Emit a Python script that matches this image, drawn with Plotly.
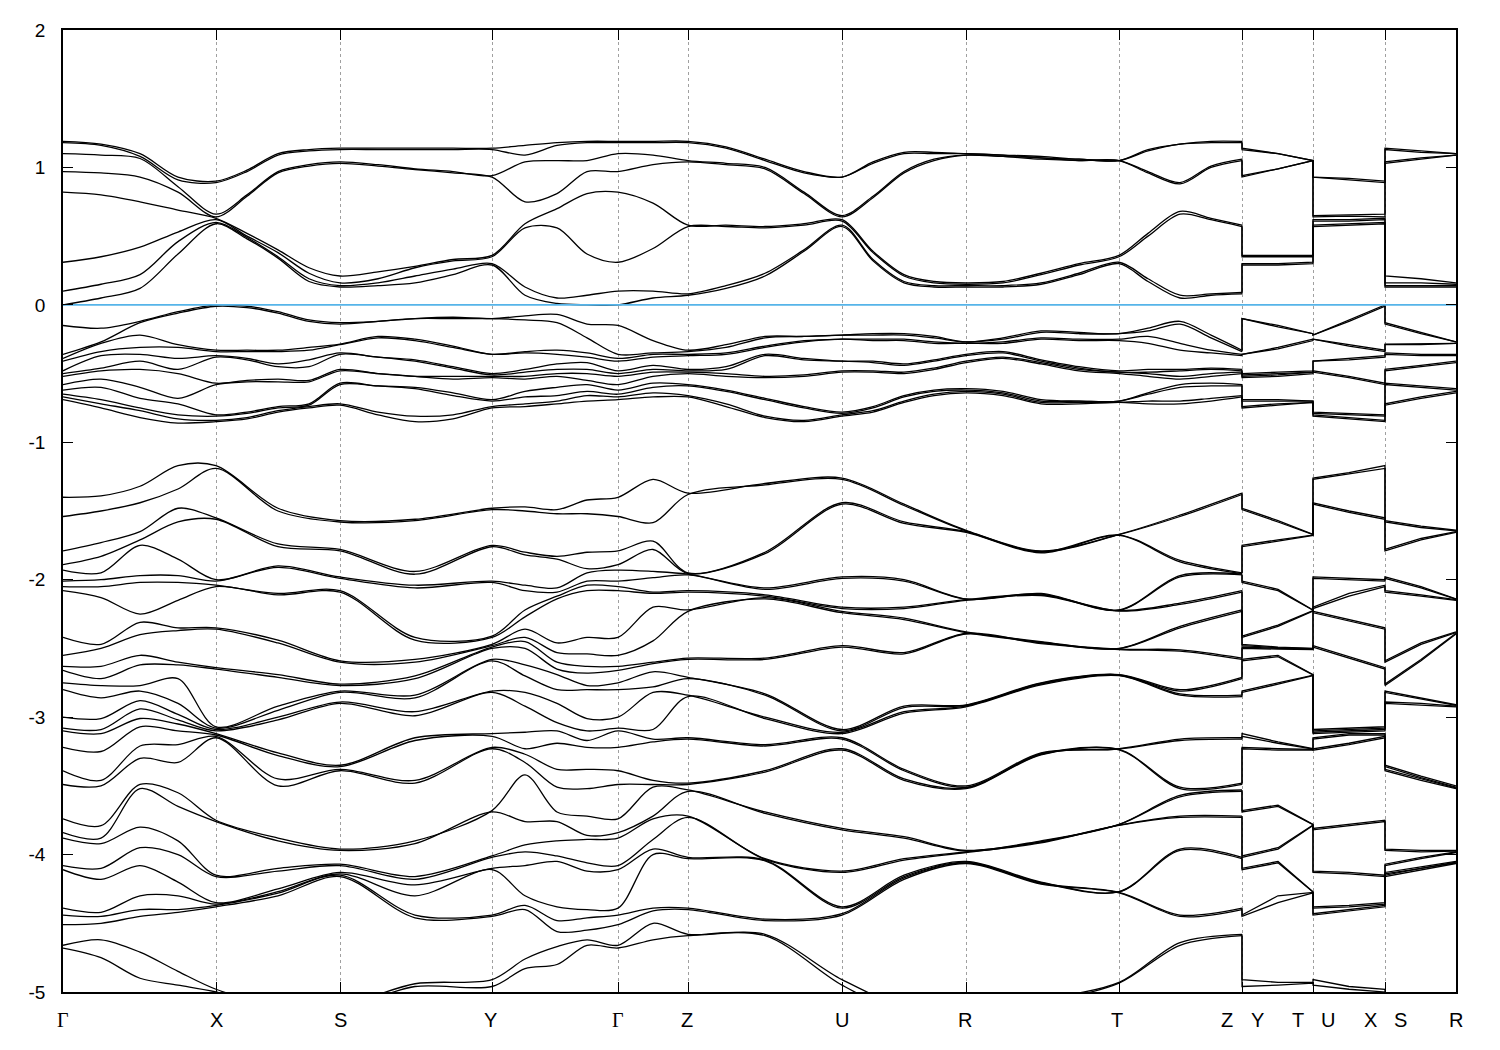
import plotly.graph_objects as go

# ---------------- k-path (distance along the path) ----------------
K_MAIN = [0.00, 0.38, 0.77, 1.15, 1.53, 1.84, 2.15, 2.46, 2.77, 3.15, 3.52, 3.90, 4.29,
          4.62, 4.94, 5.24, 5.55, 5.90, 6.25, 6.63, 7.02, 7.41, 7.79, 8.10, 8.41, 8.71,
          9.03, 9.40, 9.78, 10.16, 10.56, 10.85, 11.17, 11.48, 11.79]
K_DEEP = [0.00, 0.38, 0.77, 1.15, 1.53, 2.15, 2.77, 3.52, 4.29, 4.62, 4.94, 5.24, 5.55,
          5.90, 6.25, 7.02, 7.79, 8.41, 9.03, 9.78, 10.56, 11.17, 11.79]
K_YT = [11.79, 12.15, 12.50]
K_UX = [12.50, 12.86, 13.22]
K_SR = [13.22, 13.58, 13.93]

TICK_POS = [0.00, 1.53, 2.77, 4.29, 5.55, 6.25, 7.79, 9.03, 10.56, 11.79, 12.50, 13.22, 13.93]
TICK_LABELS = ["Γ", "X", "S", "Y", "Γ", "Z", "U", "R", "T", "Z", "Y", "T", "U", "X", "S", "R"]
LABEL_POS = [0.00, 1.53, 2.77, 4.27, 5.55, 6.24, 7.79, 9.02, 10.54, 11.64, 11.94, 12.35, 12.65,
             13.07, 13.37, 13.93]
Y_TICKS = [-5, -4, -3, -2, -1, 0, 1, 2]
E_FERMI = 0.0

# ---------------- conduction bands (energy columns along K_MAIN) ----------------
COND_MAIN = [
    [1.19, 1.18, 1.10, 0.97, 0.82, 0.31, 0.10, 0.00],
    [1.17, 1.16, 1.09, 0.96, 0.80, 0.35, 0.15, 0.05],
    [1.10, 1.08, 1.065, 0.93, 0.75, 0.42, 0.22, 0.12],
    [0.93, 0.91, 0.86, 0.82, 0.69, 0.53, 0.46, 0.37],
    [0.90, 0.89, 0.66, 0.64, 0.63, 0.62, 0.60, 0.59],
    [0.98, 0.97, 0.80, 0.79, 0.52, 0.50, 0.49, 0.48],
    [1.10, 1.09, 0.97, 0.96, 0.40, 0.38, 0.35, 0.34],
    [1.13, 1.12, 1.02, 1.01, 0.27, 0.23, 0.19, 0.17],
    [1.14, 1.13, 1.04, 1.03, 0.21, 0.16, 0.14, 0.13],
    [1.14, 1.13, 1.02, 1.01, 0.24, 0.19, 0.16, 0.14],
    [1.14, 1.13, 0.99, 0.985, 0.28, 0.27, 0.21, 0.16],
    [1.14, 1.13, 0.97, 0.96, 0.33, 0.32, 0.26, 0.22],
    [1.14, 1.13, 0.94, 0.93, 0.36, 0.35, 0.30, 0.29],
    [1.16, 1.09, 1.04, 0.75, 0.59, 0.56, 0.13, 0.07],
    [1.18, 1.16, 1.05, 0.81, 0.70, 0.56, 0.05, 0.01],
    [1.19, 1.18, 1.05, 0.97, 0.81, 0.37, 0.07, 0.00],
    [1.19, 1.18, 1.10, 0.97, 0.82, 0.31, 0.10, 0.00],
    [1.19, 1.18, 1.09, 1.02, 0.74, 0.41, 0.10, 0.05],
    [1.19, 1.18, 1.05, 1.04, 0.58, 0.57, 0.08, 0.07],
    [1.15, 1.14, 1.03, 1.02, 0.58, 0.57, 0.14, 0.12],
    [1.06, 1.05, 1.00, 0.99, 0.57, 0.56, 0.23, 0.21],
    [0.97, 0.96, 0.82, 0.81, 0.59, 0.58, 0.40, 0.39],
    [0.93, 0.93, 0.65, 0.64, 0.62, 0.61, 0.58, 0.57],
    [1.04, 1.03, 0.79, 0.78, 0.39, 0.38, 0.33, 0.32],
    [1.11, 1.10, 0.97, 0.96, 0.22, 0.21, 0.17, 0.16],
    [1.11, 1.10, 1.06, 1.05, 0.17, 0.16, 0.14, 0.13],
    [1.10, 1.10, 1.09, 1.09, 0.16, 0.15, 0.14, 0.13],
    [1.09, 1.09, 1.08, 1.08, 0.17, 0.16, 0.14, 0.13],
    [1.08, 1.07, 1.07, 1.06, 0.23, 0.22, 0.16, 0.15],
    [1.06, 1.06, 1.05, 1.05, 0.30, 0.29, 0.23, 0.22],
    [1.05, 1.05, 1.05, 1.05, 0.36, 0.35, 0.31, 0.30],
    [1.13, 1.12, 0.97, 0.96, 0.52, 0.50, 0.19, 0.17],
    [1.17, 1.17, 0.89, 0.88, 0.68, 0.66, 0.07, 0.05],
    [1.19, 1.18, 1.01, 1.00, 0.63, 0.62, 0.08, 0.07],
    [1.19, 1.18, 1.06, 1.05, 0.58, 0.57, 0.09, 0.08],
]
COND_YT = [
    [1.14, 1.13, 0.94, 0.93, 0.36, 0.35, 0.30, 0.29],
    [1.10, 1.10, 0.99, 0.99, 0.36, 0.35, 0.30, 0.29],
    [1.05, 1.05, 1.05, 1.05, 0.36, 0.35, 0.31, 0.30],
]
COND_UX = [
    [0.93, 0.93, 0.65, 0.64, 0.62, 0.61, 0.58, 0.57],
    [0.92, 0.91, 0.655, 0.645, 0.62, 0.61, 0.59, 0.58],
    [0.90, 0.89, 0.66, 0.64, 0.63, 0.62, 0.60, 0.59],
]
COND_SR = [
    [1.14, 1.13, 1.04, 1.03, 0.21, 0.16, 0.14, 0.13],
    [1.12, 1.11, 1.07, 1.06, 0.19, 0.16, 0.14, 0.13],
    [1.10, 1.10, 1.09, 1.09, 0.16, 0.15, 0.14, 0.13],
]

# ---------------- upper valence bands (columns along K_MAIN) ----------------
VAL_MAIN = [
    [-0.15, -0.36, -0.39, -0.41, -0.48, -0.50, -0.52, -0.58, -0.62, -0.65, -0.67, -0.69],
    [-0.17, -0.27, -0.28, -0.34, -0.37, -0.46, -0.48, -0.54, -0.60, -0.69, -0.72, -0.75],
    [-0.12, -0.13, -0.22, -0.31, -0.36, -0.41, -0.47, -0.60, -0.68, -0.75, -0.77, -0.82],
    [-0.05, -0.06, -0.29, -0.31, -0.39, -0.47, -0.50, -0.68, -0.72, -0.80, -0.83, -0.86],
    [0.00, -0.01, -0.33, -0.34, -0.37, -0.38, -0.57, -0.58, -0.80, -0.81, -0.84, -0.85],
    [-0.01, -0.02, -0.33, -0.34, -0.39, -0.40, -0.55, -0.56, -0.78, -0.79, -0.82, -0.83],
    [-0.05, -0.06, -0.33, -0.34, -0.43, -0.45, -0.54, -0.56, -0.74, -0.75, -0.77, -0.78],
    [-0.11, -0.12, -0.31, -0.33, -0.40, -0.45, -0.55, -0.56, -0.72, -0.73, -0.74, -0.75],
    [-0.13, -0.14, -0.285, -0.29, -0.35, -0.36, -0.47, -0.48, -0.57, -0.58, -0.72, -0.73],
    [-0.12, -0.12, -0.23, -0.24, -0.38, -0.38, -0.50, -0.50, -0.59, -0.59, -0.78, -0.80],
    [-0.10, -0.10, -0.25, -0.26, -0.40, -0.41, -0.52, -0.52, -0.60, -0.61, -0.81, -0.85],
    [-0.09, -0.10, -0.30, -0.31, -0.45, -0.46, -0.52, -0.54, -0.64, -0.66, -0.80, -0.83],
    [-0.10, -0.10, -0.36, -0.36, -0.50, -0.51, -0.52, -0.53, -0.69, -0.70, -0.74, -0.75],
    [-0.08, -0.11, -0.34, -0.35, -0.47, -0.49, -0.52, -0.54, -0.63, -0.67, -0.72, -0.74],
    [-0.07, -0.13, -0.33, -0.36, -0.43, -0.47, -0.50, -0.52, -0.60, -0.66, -0.70, -0.72],
    [-0.14, -0.24, -0.35, -0.38, -0.42, -0.47, -0.50, -0.55, -0.58, -0.63, -0.66, -0.70],
    [-0.15, -0.36, -0.39, -0.41, -0.48, -0.50, -0.52, -0.58, -0.62, -0.65, -0.67, -0.69],
    [-0.26, -0.35, -0.36, -0.38, -0.44, -0.47, -0.49, -0.52, -0.57, -0.60, -0.64, -0.67],
    [-0.33, -0.34, -0.36, -0.37, -0.47, -0.48, -0.49, -0.50, -0.58, -0.59, -0.66, -0.67],
    [-0.29, -0.31, -0.35, -0.36, -0.45, -0.47, -0.50, -0.52, -0.62, -0.63, -0.72, -0.74],
    [-0.23, -0.24, -0.30, -0.31, -0.36, -0.37, -0.52, -0.53, -0.68, -0.69, -0.81, -0.82],
    [-0.23, -0.23, -0.26, -0.27, -0.39, -0.40, -0.51, -0.52, -0.74, -0.75, -0.84, -0.85],
    [-0.22, -0.22, -0.25, -0.25, -0.41, -0.41, -0.48, -0.49, -0.78, -0.79, -0.80, -0.81],
    [-0.21, -0.22, -0.25, -0.26, -0.41, -0.42, -0.48, -0.49, -0.74, -0.75, -0.77, -0.78],
    [-0.21, -0.22, -0.25, -0.26, -0.43, -0.44, -0.49, -0.50, -0.66, -0.67, -0.70, -0.71],
    [-0.23, -0.24, -0.27, -0.28, -0.40, -0.41, -0.46, -0.47, -0.62, -0.63, -0.65, -0.66],
    [-0.27, -0.27, -0.28, -0.28, -0.36, -0.37, -0.41, -0.42, -0.61, -0.62, -0.63, -0.64],
    [-0.24, -0.25, -0.27, -0.28, -0.34, -0.35, -0.38, -0.39, -0.63, -0.64, -0.65, -0.66],
    [-0.19, -0.20, -0.24, -0.25, -0.40, -0.41, -0.42, -0.43, -0.69, -0.70, -0.71, -0.72],
    [-0.20, -0.21, -0.25, -0.26, -0.45, -0.46, -0.47, -0.48, -0.70, -0.70, -0.71, -0.72],
    [-0.21, -0.21, -0.25, -0.26, -0.48, -0.49, -0.49, -0.50, -0.70, -0.70, -0.71, -0.71],
    [-0.17, -0.19, -0.23, -0.28, -0.47, -0.49, -0.50, -0.52, -0.64, -0.65, -0.70, -0.72],
    [-0.12, -0.14, -0.28, -0.33, -0.47, -0.48, -0.52, -0.54, -0.58, -0.60, -0.70, -0.72],
    [-0.22, -0.24, -0.33, -0.35, -0.46, -0.47, -0.50, -0.52, -0.57, -0.59, -0.68, -0.70],
    [-0.33, -0.34, -0.36, -0.37, -0.47, -0.48, -0.49, -0.50, -0.58, -0.59, -0.66, -0.67],
]
VAL_YT = [
    [-0.10, -0.10, -0.36, -0.36, -0.50, -0.51, -0.52, -0.53, -0.69, -0.70, -0.74, -0.75],
    [-0.15, -0.16, -0.31, -0.32, -0.49, -0.50, -0.51, -0.52, -0.69, -0.70, -0.72, -0.73],
    [-0.21, -0.21, -0.25, -0.26, -0.48, -0.49, -0.49, -0.50, -0.70, -0.70, -0.71, -0.71],
]
VAL_UX = [
    [-0.22, -0.22, -0.25, -0.25, -0.41, -0.41, -0.48, -0.49, -0.78, -0.79, -0.80, -0.81],
    [-0.11, -0.12, -0.29, -0.30, -0.39, -0.40, -0.52, -0.53, -0.79, -0.80, -0.82, -0.83],
    [0.00, -0.01, -0.33, -0.34, -0.37, -0.38, -0.57, -0.58, -0.80, -0.81, -0.84, -0.85],
]
VAL_SR = [
    [-0.13, -0.14, -0.285, -0.29, -0.35, -0.36, -0.47, -0.48, -0.57, -0.58, -0.72, -0.73],
    [-0.20, -0.21, -0.28, -0.29, -0.36, -0.37, -0.44, -0.45, -0.59, -0.60, -0.67, -0.68],
    [-0.27, -0.27, -0.28, -0.28, -0.36, -0.37, -0.41, -0.42, -0.61, -0.62, -0.63, -0.64],
]

# ---------------- deep valence bands (columns along K_DEEP) ----------------
DEEP_GAMMA = [-1.40, -1.54, -1.79, -1.89, -1.93, -2.01, -2.05, -2.08, -2.42, -2.55, -2.63, -2.66,
              -2.75, -2.80, -3.00, -3.08, -3.10, -3.22, -3.39, -3.49, -3.74, -3.84, -3.88, -4.08,
              -4.11, -4.39, -4.44, -4.51, -4.66, -4.68]
DEEP_X = [-1.17, -1.19, -1.55, -1.56, -2.00, -2.01, -2.04, -2.05, -2.35, -2.36, -2.64, -2.65,
          -3.07, -3.08, -3.09, -3.10, -3.12, -3.13, -3.14, -3.15, -3.75, -3.76, -4.15, -4.16,
          -4.35, -4.36, -4.37, -4.38, -4.98, -5.00]
DEEP_S = [-1.57, -1.58, -1.78, -1.79, -1.98, -1.99, -2.08, -2.09, -2.59, -2.60, -2.76, -2.77,
          -2.81, -2.82, -2.89, -2.90, -3.35, -3.36, -3.38, -3.39, -3.96, -3.97, -4.07, -4.08,
          -4.13, -4.14, -4.15, -4.16, -5.10, -5.12]
DEEP_Y = [-1.48, -1.49, -1.75, -1.76, -2.01, -2.02, -2.41, -2.42, -2.47, -2.48, -2.49, -2.50,
          -2.58, -2.59, -2.81, -2.82, -3.12, -3.14, -3.22, -3.23, -3.68, -3.69, -4.01, -4.02,
          -4.10, -4.11, -4.44, -4.45, -4.91, -4.96]
DEEP_Z = [-1.37, -1.38, -1.95, -1.955, -1.96, -1.965, -2.08, -2.09, -2.22, -2.23, -2.57, -2.58,
          -2.71, -2.72, -2.84, -2.85, -3.15, -3.16, -3.48, -3.49, -3.53, -3.54, -3.72, -3.73,
          -4.02, -4.03, -4.39, -4.40, -4.58, -4.59]
DEEP_U = [-1.26, -1.27, -1.44, -1.45, -1.98, -1.99, -2.20, -2.21, -2.23, -2.24, -2.48, -2.49,
          -3.09, -3.10, -3.11, -3.12, -3.15, -3.16, -3.23, -3.24, -3.81, -3.82, -4.12, -4.13,
          -4.38, -4.39, -4.43, -4.44, -4.91, -4.95]
DEEP_R = [-1.64, -1.645, -1.65, -1.655, -2.14, -2.142, -2.145, -2.15, -2.38, -2.385, -2.39, -2.395,
          -2.91, -2.915, -2.92, -2.925, -3.50, -3.51, -3.515, -3.52, -3.97, -3.975, -3.98, -3.985,
          -4.05, -4.055, -4.06, -4.065, -5.10, -5.15]
DEEP_T = [-1.67, -1.672, -1.675, -1.678, -2.22, -2.222, -2.225, -2.228, -2.50, -2.502, -2.505, -2.508,
          -2.69, -2.692, -2.695, -2.698, -3.23, -3.232, -3.235, -3.238, -3.78, -3.782, -3.785, -3.788,
          -4.27, -4.272, -4.275, -4.278, -4.93, -4.935]

DEEP_MAIN = [
    DEEP_GAMMA,
    [-1.39, -1.50, -1.73, -1.83, -1.95, -2.00, -2.05, -2.13, -2.47, -2.50, -2.63, -2.72, -2.77, -2.86, -3.01,
     -3.09, -3.12, -3.25, -3.46, -3.50, -3.79, -3.88, -3.92, -4.10, -4.18, -4.42, -4.45, -4.50, -4.62, -4.75],
    [-1.32, -1.44, -1.65, -1.71, -1.75, -1.97, -2.02, -2.25, -2.31, -2.40, -2.55, -2.62, -2.77, -2.81, -2.88,
     -2.94, -3.01, -3.07, -3.21, -3.30, -3.49, -3.52, -3.80, -3.95, -4.08, -4.30, -4.40, -4.45, -4.71, -4.90],
    [-1.17, -1.34, -1.48, -1.58, -1.85, -1.97, -2.02, -2.15, -2.35, -2.37, -2.60, -2.62, -2.72, -2.90, -2.98,
     -3.02, -3.05, -3.10, -3.20, -3.33, -3.55, -3.65, -3.90, -4.00, -4.20, -4.30, -4.40, -4.42, -4.85, -4.95],
    DEEP_X,
    [-1.48, -1.50, -1.74, -1.76, -1.90, -1.91, -2.10, -2.11, -2.44, -2.46, -2.69, -2.71, -2.92, -2.95, -3.00,
     -3.02, -3.26, -3.28, -3.45, -3.50, -3.88, -3.90, -4.10, -4.12, -4.25, -4.27, -4.28, -4.30, -5.10, -5.12],
    DEEP_S,
    [-1.56, -1.57, -1.94, -1.96, -2.04, -2.06, -2.42, -2.44, -2.58, -2.60, -2.70, -2.72, -2.84, -2.86, -2.96,
     -2.99, -3.15, -3.17, -3.46, -3.48, -3.90, -3.92, -4.16, -4.18, -4.22, -4.30, -4.44, -4.46, -4.94, -4.96],
    DEEP_Y,
    [-1.47, -1.50, -1.80, -1.82, -2.04, -2.08, -2.22, -2.27, -2.36, -2.42, -2.45, -2.50, -2.62, -2.70, -2.82,
     -2.92, -3.11, -3.23, -3.27, -3.33, -3.42, -3.76, -3.93, -3.98, -4.08, -4.30, -4.37, -4.40, -4.76, -4.83],
    [-1.49, -1.52, -1.83, -1.85, -2.06, -2.09, -2.12, -2.14, -2.46, -2.53, -2.60, -2.65, -2.69, -2.80, -2.90,
     -3.04, -3.10, -3.19, -3.38, -3.51, -3.69, -3.76, -3.90, -4.01, -4.05, -4.38, -4.48, -4.56, -4.67, -4.80],
    [-1.42, -1.52, -1.80, -1.92, -1.95, -2.01, -2.04, -2.08, -2.42, -2.54, -2.63, -2.68, -2.77, -2.80, -3.01,
     -3.10, -3.17, -3.22, -3.38, -3.52, -3.72, -3.86, -3.89, -4.06, -4.12, -4.40, -4.46, -4.55, -4.62, -4.66],
    DEEP_GAMMA,
    [-1.27, -1.585, -1.72, -1.78, -1.94, -1.985, -2.09, -2.10, -2.20, -2.445, -2.60, -2.61, -2.67, -2.78, -2.82,
     -3.09, -3.16, -3.18, -3.46, -3.49, -3.51, -3.72, -3.74, -3.89, -3.96, -4.00, -4.39, -4.41, -4.50, -4.62],
    DEEP_Z,
    [-1.30, -1.31, -1.80, -1.81, -2.06, -2.07, -2.11, -2.12, -2.13, -2.14, -2.57, -2.58, -2.83, -2.84, -3.00,
     -3.01, -3.20, -3.21, -3.39, -3.40, -3.69, -3.70, -4.03, -4.035, -4.04, -4.045, -4.47, -4.48, -4.58, -4.59],
    DEEP_U,
    [-1.45, -1.46, -1.58, -1.59, -2.00, -2.01, -2.20, -2.21, -2.28, -2.29, -2.53, -2.54, -2.92, -2.93, -2.96,
     -2.97, -3.38, -3.39, -3.45, -3.46, -3.87, -3.88, -4.03, -4.04, -4.15, -4.16, -4.17, -4.18, -5.10, -5.15],
    DEEP_R,
    [-1.79, -1.795, -1.80, -1.805, -2.10, -2.105, -2.11, -2.115, -2.45, -2.455, -2.46, -2.465, -2.75, -2.755,
     -2.76, -2.765, -3.26, -3.265, -3.27, -3.275, -3.90, -3.905, -3.91, -3.915, -4.20, -4.205, -4.21, -4.215,
     -5.05, -5.08],
    DEEP_T,
    [-1.53, -1.54, -1.86, -1.87, -1.97, -1.98, -2.17, -2.18, -2.34, -2.35, -2.51, -2.52, -2.80, -2.81, -2.83,
     -2.84, -3.16, -3.17, -3.51, -3.52, -3.57, -3.58, -3.72, -3.73, -3.96, -3.97, -4.44, -4.45, -4.64, -4.66],
    DEEP_Z,
]
DEEP_YT = [
    DEEP_Y,
    [-1.57, -1.58, -1.71, -1.72, -2.07, -2.08, -2.33, -2.34, -2.49, -2.495, -2.50, -2.505, -2.55, -2.56, -2.75,
     -2.76, -3.18, -3.19, -3.23, -3.24, -3.64, -3.65, -3.95, -3.96, -4.05, -4.06, -4.30, -4.35, -4.93, -4.95],
    DEEP_T,
]
DEEP_UX = [
    DEEP_U,
    [-1.22, -1.23, -1.50, -1.51, -1.99, -2.00, -2.10, -2.12, -2.29, -2.30, -2.56, -2.57, -3.08, -3.09, -3.10,
     -3.11, -3.12, -3.13, -3.19, -3.20, -3.78, -3.79, -4.13, -4.14, -4.37, -4.38, -4.40, -4.41, -4.96, -4.98],
    DEEP_X,
]
DEEP_SR = [
    DEEP_S,
    [-1.61, -1.62, -1.70, -1.71, -2.05, -2.06, -2.11, -2.12, -2.46, -2.47, -2.58, -2.59, -2.86, -2.87, -2.90,
     -2.91, -3.43, -3.44, -3.45, -3.46, -3.97, -3.98, -4.02, -4.03, -4.09, -4.10, -4.10, -4.11, -5.10, -5.12],
    DEEP_R,
]

# ---------------- figure ----------------
fig = go.Figure()
LINE = dict(color="black", width=1.3)

groups = [
    (K_MAIN, COND_MAIN, COND_YT, COND_UX, COND_SR),
    (K_MAIN, VAL_MAIN, VAL_YT, VAL_UX, VAL_SR),
    (K_DEEP, DEEP_MAIN, DEEP_YT, DEEP_UX, DEEP_SR),
]
for kmain, main_cols, yt, ux, sr in groups:
    nb = len(main_cols[0])
    for cols in (main_cols, yt, ux, sr):
        for c in cols:
            assert len(c) == nb, (len(c), nb)
    assert len(main_cols) == len(kmain)
    for b in range(nb):
        ym = [c[b] for c in main_cols]
        fig.add_trace(go.Scatter(x=kmain, y=ym, mode="lines",
                                 line=dict(LINE, shape="spline", smoothing=0.9),
                                 hoverinfo="skip", showlegend=False))
        xs = [kmain[-1]] + K_YT + K_UX + K_SR
        ys = [ym[-1]] + [c[b] for c in yt] + [c[b] for c in ux] + [c[b] for c in sr]
        fig.add_trace(go.Scatter(x=xs, y=ys, mode="lines", line=dict(LINE, shape="linear"),
                                 hoverinfo="skip", showlegend=False))

# Fermi level
fig.add_trace(go.Scatter(x=[TICK_POS[0], TICK_POS[-1]], y=[E_FERMI, E_FERMI], mode="lines",
                         line=dict(color="#56B4E9", width=1.6), hoverinfo="skip", showlegend=False))

for lab, pos in zip(TICK_LABELS, LABEL_POS):
    fam = "Liberation Serif" if lab == "Γ" else "Liberation Sans"
    fig.add_annotation(x=pos, y=0, xref="x", yref="paper", text=lab, showarrow=False,
                       yanchor="middle", xanchor="center", yshift=-28,
                       font=dict(family=fam, size=20, color="black"))

# the page body adds an 8 px offset, so margins are set to land the frame at 63..1456 x 28..992
fig.update_layout(
    width=1500, height=1050,
    margin=dict(l=55, r=52, t=20, b=66),
    paper_bgcolor="white", plot_bgcolor="white",
    font=dict(family="Liberation Sans", size=19, color="black"),
)
fig.update_xaxes(range=[TICK_POS[0], TICK_POS[-1]], tickvals=TICK_POS, showticklabels=False,
                 ticks="inside", ticklen=10, tickcolor="black", showline=True, linecolor="black",
                 linewidth=1.5, mirror="ticks", showgrid=True, gridcolor="#a0a0a0", griddash="dot",
                 gridwidth=1, zeroline=False)
fig.update_yaxes(range=[-5, 2], tickvals=Y_TICKS, ticktext=[str(v) for v in Y_TICKS],
                 ticks="inside", ticklen=10, tickcolor="black", showline=True, linecolor="black",
                 linewidth=1.5, mirror="ticks", showgrid=False, zeroline=False,
                 ticklabelstandoff=12, tickfont=dict(family="Liberation Sans", size=19))

fig.write_html("out.html")
